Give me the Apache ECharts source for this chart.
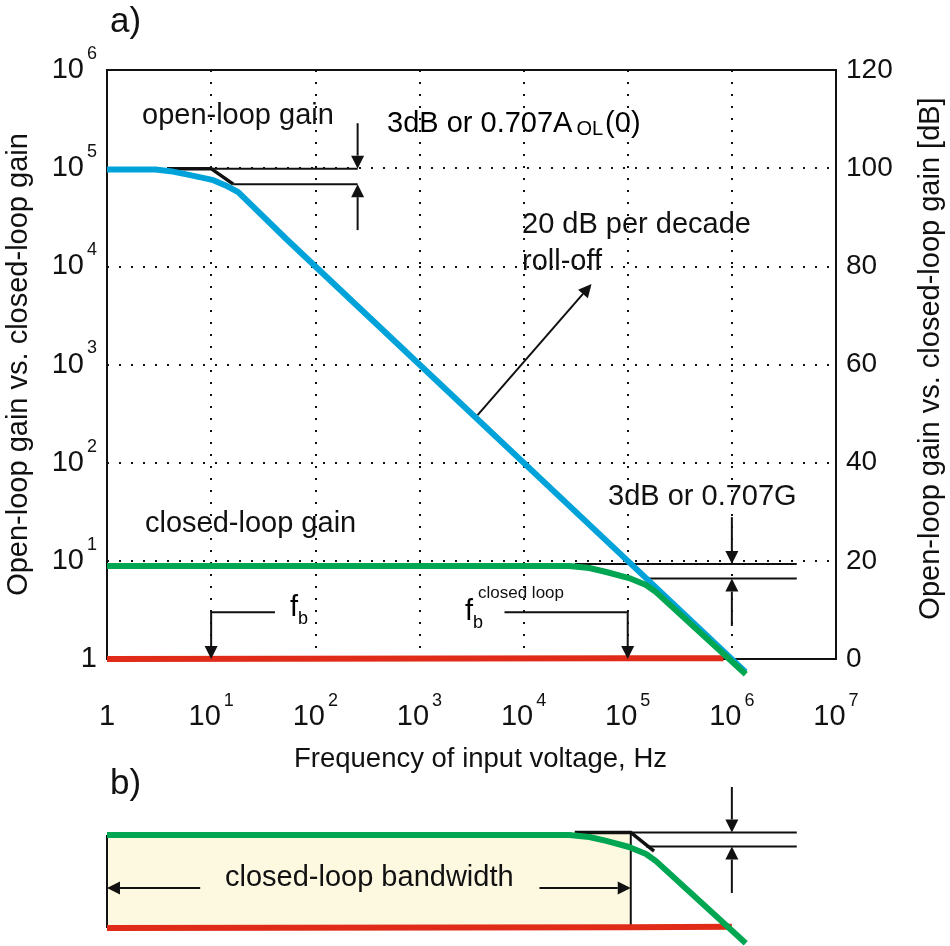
<!DOCTYPE html>
<html><head><meta charset="utf-8">
<script src="https://cdn.jsdelivr.net/npm/echarts@6/dist/echarts.min.js"></script>
<style>html,body{margin:0;background:#fff}#c{width:950px;height:946px}</style></head>
<body><div id="c"></div>
<script>
const FONT = '"Liberation Sans", Arial, sans-serif';
const INK = '#111111';
// curves [frequency, gain]
const openLoop = [[1,97000],[2.9,97000],[4.06,93200],[6.3,84900],[10.5,75500],[13.6,67100],[18.2,57000],[53.6,18650],[1000,1000],[100000,10],[1350000,0.74]];
const closedLoop = [[1,8.85],[27500,8.85],[42800,8.45],[62200,7.7],[103000,6.68],[150000,5.67],[187000,4.8],[1360000,0.7]];
const unityA = [[1,1],[100000,1.02],[830000,1.02]];
const unityB = [[1,1],[100000,1.02],[1000000,1.03]];
// annotations panel a
const openRef = [[10,98900],[255,98900]];
const openTangent = [[3.8,98900],[10,98900],[16.3,68700]];
const open3dB = [[16.3,68700],[255,68700]];
const openDown = [[255,287000],[255,98900]];
const openUp = [[255,23400],[255,68700]];
const rollOffArrow = [[3615,305],[44900,6590]];
const closedRef = [[31000,9.3],[4200000,9.3]];
const closed3dB = [[160000,6.6],[4200000,6.6]];
const closedDown = [[1000000,27.9],[1000000,9.3]];
const closedUp = [[1000000,2.17],[1000000,6.6]];
const fbElbow = [[41,3],[10,3],[10,1]];
const fbClosedElbow = [[6560,3],[100000,3],[100000,1]];
// annotations panel b
const bandFill = [[1,1],[107000,9.3]];
const bandLeftEdge = [[1,1],[1,8.85]];
const bandRightEdge = [[107000,1],[107000,9.3]];
const bandArrowL = [[7.85,2.55],[1,2.55]];
const bandArrowR = [[14200,2.55],[107000,2.55]];
const bRef = [[107000,9.39],[4200000,9.39]];
const bWedge = [[31000,9.39],[107000,9.39],[179000,6.08]];
const b3dB = [[150000,6.76],[4200000,6.76]];
const bDown = [[1000000,27.3],[1000000,9.39]];
const bUp = [[1000000,2.27],[1000000,6.76]];

function pathSeries(points, grid, width, arrow, z) {
  return {
    type: 'custom', coordinateSystem: 'cartesian2d', xAxisIndex: grid, yAxisIndex: grid ? 2 : 0,
    silent: true, clip: false, z: z || 5, data: [points.flat()],
    renderItem: function (p, api) {
      const pts = points.map((q, i) => api.coord([api.value(2*i), api.value(2*i+1)]));
      const kids = [];
      let line = pts.slice();
      if (arrow) {
        const a = pts[pts.length-2], b = pts[pts.length-1];
        const d = Math.hypot(b[0]-a[0], b[1]-a[1]), ux = (b[0]-a[0])/d, uy = (b[1]-a[1])/d;
        const L = 13, W = 6.5;
        const base = [b[0]-ux*L, b[1]-uy*L];
        line[line.length-1] = base;
        kids.push({type:'polygon', shape:{points:[b,[base[0]-uy*W,base[1]+ux*W],[base[0]+uy*W,base[1]-ux*W]]}, style:{fill:INK}});
      }
      kids.unshift({type:'polyline', shape:{points:line}, style:{stroke:INK, lineWidth:width, fill:null}});
      return {type:'group', children:kids};
    }
  };
}
function curve(data, color, grid, z) {
  return {type:'line', data, xAxisIndex:grid, yAxisIndex:grid?2:0, showSymbol:false, symbol:'none', silent:true, clip:false, z,
    lineStyle:{color, width:6, cap:'butt', join:'round'}};
}
const powerLabel = (v) => { const e = Math.round(Math.log10(v)); return e === 0 ? '{b|1}' : '{b|10}{s|'+e+'}'; };
const powerRich = {b:{fontSize:29,fontFamily:FONT,color:INK,lineHeight:50}, s:{fontSize:18,fontFamily:FONT,color:INK,verticalAlign:'top',lineHeight:12,padding:[0,0,0,3]}};
const dotted = {show:true, lineStyle:{color:INK, width:2, type:[2,10]}};
const txt = (x,y,text,size,rich) => ({type:'text', x, y, z:100, style:{text, fill:INK, font:size+'px '+FONT, textVerticalAlign:'middle', rich}});
const main = {fontSize:29,fontFamily:FONT,color:INK,lineHeight:30};
const sub = {fontSize:20,fontFamily:FONT,color:INK,verticalAlign:'bottom',lineHeight:12,padding:[0,2,0,4]};
const fMain = {fontSize:29,fontFamily:FONT,color:INK,lineHeight:40};
const fSub = {fontSize:18,fontFamily:FONT,color:INK,verticalAlign:'bottom',lineHeight:12};

const chart = echarts.init(document.getElementById('c'), null, {renderer:'canvas'});
chart.setOption({
  animation:false, backgroundColor:'#fff',
  grid:[
    {left:107, top:70, width:729, height:589, show:true, borderColor:INK, borderWidth:2, backgroundColor:'transparent', outerBoundsMode:'none'},
    {left:107, top:731.6, width:729, height:196.4, show:false, outerBoundsMode:'none'}
  ],
  xAxis:[
    {type:'log', logBase:10, min:1, max:1e7, gridIndex:0, axisLine:{show:false}, axisTick:{show:false}, splitLine:dotted, minorSplitLine:{show:false},
     axisLabel:{margin:33, formatter:powerLabel, rich:powerRich, hideOverlap:false},
     name:'Frequency of input voltage, Hz', nameLocation:'middle', nameGap:86,
     nameTextStyle:{fontSize:27.5,fontFamily:FONT,color:INK,padding:[0,0,0,18]}},
    {type:'log', logBase:10, min:1, max:1e7, gridIndex:1, show:false}
  ],
  yAxis:[
    {type:'log', logBase:10, min:1, max:1e6, gridIndex:0, axisLine:{show:false}, axisTick:{show:false}, splitLine:dotted,
     axisLabel:{margin:10, formatter:powerLabel, rich:powerRich},
     name:'Open-loop gain vs. closed-loop gain', nameLocation:'middle', nameGap:74, nameRotate:90,
     nameTextStyle:{fontSize:29,fontFamily:FONT,color:INK}},
    {type:'value', min:0, max:120, interval:20, position:'right', gridIndex:0, axisLine:{show:false}, axisTick:{show:false}, splitLine:{show:false},
     axisLabel:{margin:10, fontSize:28, fontFamily:FONT, color:INK},
     name:'Open-loop gain vs. closed-loop gain [dB]', nameLocation:'middle', nameGap:80, nameRotate:90,
     nameTextStyle:{fontSize:29,fontFamily:FONT,color:INK,padding:[0,0,0,12]}},
    {type:'log', logBase:10, min:1, max:100, gridIndex:1, show:false}
  ],
  graphic:[
    txt(110,22,'a)',35), txt(110,784,'b)',35),
    txt(142,116,'open-loop gain',29),
    {type:'text', x:387, y:124, z:100, style:{text:'{m|3dB or 0.707A}{s|OL}{m|(0)}', rich:{m:main,s:sub}, textVerticalAlign:'middle', font:'29px '+FONT}},
    txt(522,225,'20 dB per decade',29), txt(522,262,'roll-off',29),
    txt(608,497,'3dB or 0.707G',29),
    txt(145,524,'closed-loop gain',29),
    {type:'text', x:290, y:608, z:100, style:{text:'{m|f}{s|b}', rich:{m:fMain,s:fSub}, textVerticalAlign:'middle', font:'29px '+FONT}},
    {type:'text', x:465, y:612, z:100, style:{text:'{m|f}{s|b}', rich:{m:fMain,s:fSub}, textVerticalAlign:'middle', font:'29px '+FONT}},
    txt(478,593,'closed loop',17),
    txt(225,878,'closed-loop bandwidth',29)
  ],
  series:[
    {type:'custom', coordinateSystem:'cartesian2d', xAxisIndex:1, yAxisIndex:2, silent:true, clip:false, z:1, data:[bandFill.flat()],
     renderItem:(p,api)=>{const a=api.coord([api.value(0),api.value(1)]),b=api.coord([api.value(2),api.value(3)]);
       return {type:'rect',shape:{x:a[0],y:b[1],width:b[0]-a[0],height:a[1]-b[1]},style:{fill:'#fdf9e0'}};}},
    pathSeries(openRef,0,2), pathSeries(openTangent,0,3.5), pathSeries(open3dB,0,2),
    pathSeries(openDown,0,2,true), pathSeries(openUp,0,2,true), pathSeries(rollOffArrow,0,2,true),
    pathSeries(closedRef,0,2), pathSeries(closed3dB,0,2),
    pathSeries(closedDown,0,2,true), pathSeries(closedUp,0,2,true),
    curve(unityA,'#e02b18',0,6), curve(unityB,'#e02b18',1,6),
    curve(openLoop,'#00a3d9',0,7),
    curve(closedLoop,'#00a651',0,8), curve(closedLoop,'#00a651',1,8),
    pathSeries(fbElbow,0,2,true,9), pathSeries(fbClosedElbow,0,2,true,9),
    pathSeries(bandLeftEdge,1,2,false,5), pathSeries(bandRightEdge,1,2,false,5),
    pathSeries(bandArrowL,1,2,true), pathSeries(bandArrowR,1,2,true),
    pathSeries(bRef,1,2), pathSeries(bWedge,1,3.5), pathSeries(b3dB,1,2),
    pathSeries(bDown,1,2,true), pathSeries(bUp,1,2,true)
  ]
});
</script></body></html>
